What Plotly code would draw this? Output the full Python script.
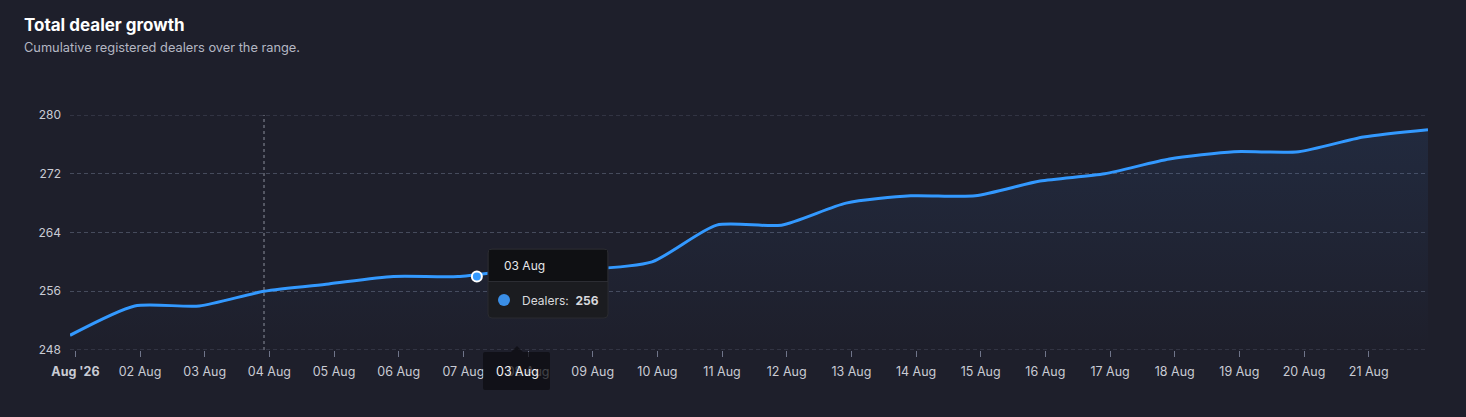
import plotly.graph_objects as go
import pandas as pd

# daily cumulative dealer counts (points sit ~2h before local midnight)
dates = pd.date_range("2026-07-31 22:00", periods=22, freq="D")
dealers = [250, 254, 254, 256, 257, 258, 258, 259, 259, 260, 265,
           265, 268, 269, 269, 271, 272, 274, 275, 275, 277, 278]

tick_days = pd.date_range("2026-08-01", "2026-08-21", freq="D")
tick_text = ["<b>Aug '26</b>"] + [d.strftime("%d Aug") for d in tick_days[1:]]
y_ticks = [248, 256, 264, 272, 280]

hover_idx = 3          # point under the crosshair
hover_label = "03 Aug"

BG = "#1e1f2b"
LINE = "#3399ff"
GRID = "#464b5c"
FONT = "Inter"

W, H = 1466, 417
L, R, T, B = 70, 38, 115, 67
pw, ph = W - L - R, H - T - B


def px(x):
    return (x - L) / pw


def py(y):
    return (H - B - y) / ph


def rrect(x0, y0, x1, y1, r):
    # rounded rectangle path in paper coords from pixel corners
    a, b, c, d = px(x0), py(y0), px(x1), py(y1)
    rx, ry = r / pw, r / ph
    return (f"M {a+rx},{b} L {c-rx},{b} Q {c},{b} {c},{b-ry} L {c},{d+ry} "
            f"Q {c},{d} {c-rx},{d} L {a+rx},{d} Q {a},{d} {a},{d+ry} "
            f"L {a},{b-ry} Q {a},{b} {a+rx},{b} Z")


def label(x, y, text, size=12, color="#e6e7ea", anchor="left"):
    fig.add_annotation(xref="paper", yref="paper", x=px(x), y=py(y),
                       text=text, showarrow=False,
                       xanchor=anchor, yanchor="middle",
                       font=dict(family=FONT, size=size, color=color))


fig = go.Figure()

fig.add_trace(go.Scatter(
    x=dates, y=dealers, mode="lines",
    line=dict(color=LINE, width=3, shape="spline", smoothing=0.65),
    fill="tozeroy",
    fillgradient=dict(type="vertical", start=248, stop=280,
                      colorscale=[[0, "rgba(60,120,200,0.0)"],
                                  [1, "rgba(60,120,200,0.13)"]]),
    hoverinfo="skip",
))

# stale hover marker left on the line
fig.add_trace(go.Scatter(
    x=[dates[6] + pd.Timedelta(hours=7)], y=[dealers[6]], mode="markers",
    marker=dict(size=10, color=LINE, line=dict(color="white", width=2)),
    hoverinfo="skip",
))

# edge gridlines (plotly drops the ones on the plot border)
for v in (y_ticks[0], y_ticks[-1]):
    fig.add_shape(type="line", xref="paper", yref="y", x0=0, x1=1, y0=v, y1=v,
                  layer="below", line=dict(color=GRID, width=1, dash="4px,3px"))

# crosshair
fig.add_shape(type="line", xref="x", yref="paper",
              x0=dates[hover_idx], x1=dates[hover_idx], y0=0, y1=1,
              line=dict(color="#8a8f9c", width=1, dash="3px,3px"))

# tooltip box
fig.add_shape(type="path", xref="paper", yref="paper",
              path=rrect(488, 249, 608, 318, 4),
              fillcolor="#1b1c20", line=dict(color="#2a2b30", width=1))
fig.add_shape(type="rect", xref="paper", yref="paper",
              x0=px(489), x1=px(607), y0=py(250), y1=py(281),
              fillcolor="#0f1013", line=dict(width=0))
fig.add_shape(type="line", xref="paper", yref="paper",
              x0=px(488), x1=px(608), y0=py(281.5), y1=py(281.5),
              line=dict(color="#2c2d33", width=1))
fig.add_shape(type="circle", xref="paper", yref="paper",
              x0=px(498), x1=px(510), y0=py(294), y1=py(306),
              fillcolor="#3a8ee6", line=dict(width=0))

# x-axis hover label, see-through so the tick label below still shows faintly
XLBL = "rgba(12,13,16,0.72)"
fig.add_shape(type="path", xref="paper", yref="paper",
              path=rrect(483, 352, 550, 390, 2),
              fillcolor=XLBL, line=dict(width=0))
fig.add_shape(type="path", xref="paper", yref="paper",
              path=f"M {px(511)},{py(352)} L {px(517)},{py(346)} L {px(523)},{py(352)} Z",
              fillcolor=XLBL, line=dict(width=0))

label(502, 265, hover_label)
label(520, 300, f"Dealers:  <b>{dealers[hover_idx]}</b>", color="#d8d9dd")
label(517, 371, hover_label, size=12.5, color="#f2f2f4", anchor="center")

# subtitle
label(22, 48, "Cumulative registered dealers over the range.",
      size=12.8, color="#b4b7c3")

fig.update_layout(
    width=W, height=H,
    margin=dict(l=L, r=R, t=T, b=B),
    paper_bgcolor=BG, plot_bgcolor=BG,
    showlegend=False,
    hovermode=False,
    title=dict(text="<b>Total dealer growth</b>", x=24 / W, xanchor="left",
               y=1 - 25 / H, yanchor="middle",
               font=dict(family=FONT, size=17, color="#ffffff")),
    font=dict(family=FONT, size=12, color="#c9cbd4"),
)

fig.update_xaxes(
    range=[dates[0], dates[-1]],
    tickvals=tick_days, ticktext=tick_text,
    showgrid=False, zeroline=False, showline=False,
    ticks="outside", ticklen=6, tickwidth=1, tickcolor="#70758a",
    ticklabelstandoff=4,
    tickfont=dict(family=FONT, size=12.5, color="#c9cbd4"),
)
fig.update_yaxes(
    range=[248, 280], tickvals=y_ticks,
    showgrid=True, gridcolor=GRID, griddash="4px,3px", gridwidth=1,
    zeroline=False, showline=False, ticks="", ticklabelstandoff=8,
    tickfont=dict(family=FONT, size=12, color="#c9cbd4"),
)

fig.write_html("out.html", config={"displayModeBar": False},
               post_script="document.body.style.margin='0';")
